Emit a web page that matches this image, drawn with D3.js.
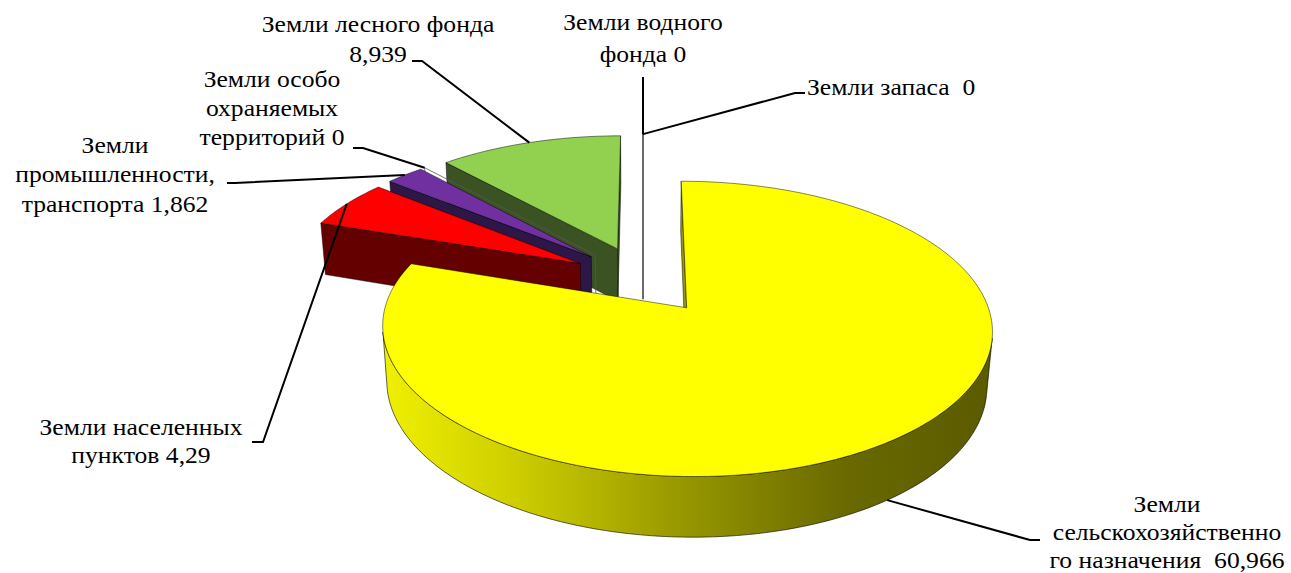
<!DOCTYPE html>
<html><head><meta charset="utf-8">
<script src="https://cdn.jsdelivr.net/npm/d3@7"></script>
</head><body style="margin:0">
<svg id="chart" width="1291" height="573"></svg>
<script>
// ---------- data ----------
const categories = [
  "Земли сельскохозяйственного назначения",
  "Земли населенных пунктов",
  "Земли промышленности, транспорта",
  "Земли особо охраняемых территорий",
  "Земли лесного фонда",
  "Земли водного фонда",
  "Земли запаса"
];
const values = [60.966, 4.29, 1.862, 0, 8.939, 0, 0];
// label text split into lines as in the picture (value appended to last line)
const labelLines = [
  ["Земли", "сельскохозяйственно", "го назначения\u00A0 {v}"],
  ["Земли населенных", "пунктов {v}"],
  ["Земли", "промышленности,", "транспорта {v}"],
  ["Земли особо", "охраняемых", "территорий {v}"],
  ["Земли лесного фонда", "{v}"],
  ["Земли водного", "фонда {v}"],
  ["Земли запаса\u00A0 {v}"]
];
const topColors  = ["#FFFF00", "#FF0000", "#7030A0", "#4F81BD", "#92D050", "#FFFFFF", "#FFFFFF"];
const faceColors = ["#9a9a00", "#640000", "#2c1746", "#283f5e", "#3b5323", "#d0d0d0", "#d0d0d0"];

// ---------- layout (labels) ----------
const labelLayout = [
  {x: 1167, y: 512, lh: 28,  anchor: "middle", leader: [[1040, 540], [1030, 540]], bottom: true},
  {x: 141,  y: 435, lh: 28,  anchor: "middle", leader: [[252, 442], [263, 442]]},
  {x: 115,  y: 153, lh: 29.5,anchor: "middle", leader: [[227, 183], [235, 183]]},
  {x: 272,  y: 87,  lh: 29,  anchor: "middle", leader: [[353, 148], [363, 148]]},
  {x: 378,  y: 32,  lh: 30,  anchor: "middle", leader: [[412, 61], [422, 61]]},
  {x: 643,  y: 30,  lh: 32,  anchor: "middle", leader: [[643, 77]]},
  {x: 807,  y: 95,  lh: 30,  anchor: "start",  leader: [[805, 93], [795, 93]]}
];
const FONT_SIZE = 23.5, FONT_STRETCH = 1.09, FONT = "Liberation Serif";

// ---------- 3D projection ----------
const R = 1, H = 0.21, EXPL = 0.248;
const sinP = 0.466, cosP = Math.sqrt(1 - sinP * sinP);
const DIST = 6.37, F = 1868, CX = 643, CY = 279.5;
const cam = [0, DIST * sinP, -DIST * cosP];
function proj(p) {
  const [x, y, z] = p;
  const v = y * cosP + z * sinP;
  const depth = -y * sinP + z * cosP;
  const s = F / (DIST + depth);
  return [CX + x * s, CY - v * s];
}
function dot(a, b) { return a[0]*b[0] + a[1]*b[1] + a[2]*b[2]; }
function sub(a, b) { return [a[0]-b[0], a[1]-b[1], a[2]-b[2]]; }

const svg = d3.select("#chart");
const defs = svg.append("defs");
const line = d3.line();

const arcs = d3.pie().sort(null).startAngle(0).endAngle(2 * Math.PI)(values);

const slices = arcs.map((a, i) => {
  const mid = (a.startAngle + a.endAngle) / 2;
  const ox = EXPL * Math.sin(mid), oz = EXPL * Math.cos(mid);
  return {i, a0: a.startAngle, a1: a.endAngle, mid, ox, oz, zero: values[i] === 0};
});

function rim(s, th, y) { return [s.ox + R * Math.sin(th), y, s.oz + R * Math.cos(th)]; }

// side gradient (light on the left, dark on the right)
const grad = defs.append("linearGradient").attr("id", "sideGrad0")
  .attr("gradientUnits", "userSpaceOnUse")
  .attr("x1", 383).attr("x2", 995).attr("y1", 0).attr("y2", 0);
[[0, "#f0f000"], [0.22, "#cdcd00"], [0.5, "#959500"], [0.75, "#6a6a00"], [1, "#5a5a00"]]
  .forEach(([o, c]) => grad.append("stop").attr("offset", o).attr("stop-color", c));

// painter's order: farthest back first
const order = slices.slice().sort((p, q) => {
  const dp = p.oz + Math.cos(p.mid) * 0.5, dq = q.oz + Math.cos(q.mid) * 0.5;
  return dq - dp;
});

const gPie = svg.append("g");
order.forEach(s => {
  const g = gPie.append("g");
  const apexT = [s.ox, 0, s.oz], apexB = [s.ox, -H, s.oz];
  if (s.zero) {
    const pts = [apexT, rim(s, s.a0, 0), rim(s, s.a0, -H), apexB].map(proj);
    g.append("path").attr("d", line(pts) + "Z")
      .attr("fill", "none").attr("stroke", "#555").attr("stroke-width", 0.8);
    return;
  }
  // cut faces
  const faces = [
    {th: s.a0, n: [-Math.cos(s.a0), 0, Math.sin(s.a0)]},
    {th: s.a1, n: [Math.cos(s.a1), 0, -Math.sin(s.a1)]}
  ];
  faces.forEach(f => {
    if (dot(sub(cam, apexT), f.n) > 0) {
      const pts = [apexT, rim(s, f.th, 0), rim(s, f.th, -H), apexB].map(proj);
      g.append("path").attr("d", line(pts) + "Z")
        .attr("fill", faceColors[s.i]).attr("stroke", "#000").attr("stroke-width", 0.6).attr("stroke-opacity", 0.8);
    }
  });
  // outer side (visible portion)
  const N = Math.max(4, Math.ceil((s.a1 - s.a0) / (Math.PI / 180)));
  const ths = d3.range(N + 1).map(k => s.a0 + (s.a1 - s.a0) * k / N);
  let run = [];
  const runs = [];
  for (let k = 0; k < N; k++) {
    const tm = (ths[k] + ths[k + 1]) / 2;
    const p = rim(s, tm, 0);
    const n = [Math.sin(tm), 0, Math.cos(tm)];
    if (dot(sub(cam, p), n) > 0) {
      if (!run.length) run.push(ths[k]);
      run.push(ths[k + 1]);
    } else if (run.length) { runs.push(run); run = []; }
  }
  if (run.length) runs.push(run);
  runs.forEach(r => {
    const top = r.map(t => proj(rim(s, t, 0)));
    const bot = r.slice().reverse().map(t => proj(rim(s, t, -H)));
    g.append("path").attr("d", line(top.concat(bot)) + "Z")
      .attr("fill", s.i === 0 ? "url(#sideGrad0)" : faceColors[s.i])
      .attr("stroke", "#000").attr("stroke-width", 0.7).attr("stroke-opacity", 0.85);
  });
  // top face
  const topPts = [proj(apexT)].concat(ths.map(t => proj(rim(s, t, 0))));
  g.append("path").attr("d", line(topPts) + "Z")
    .attr("fill", topColors[s.i]).attr("stroke", "#000").attr("stroke-width", 0.6).attr("stroke-opacity", 0.8);
});

// ---------- labels and leader lines ----------
const fmt = v => String(v).replace(".", ",");
slices.forEach(s => {
  const L = labelLayout[s.i];
  const anchor3 = rim(s, s.mid, L.bottom ? -H : 0);
  const end = proj(anchor3);
  svg.append("path").attr("d", line(L.leader.concat([end])))
    .attr("fill", "none").attr("stroke", "#000").attr("stroke-width", 2);
  const gT = svg.append("g").attr("transform", `translate(${L.x},0) scale(${FONT_STRETCH},1)`);
  labelLines[s.i].forEach((ln, k) => {
    gT.append("text")
      .attr("x", 0).attr("y", L.y + k * L.lh)
      .attr("text-anchor", L.anchor)
      .style("font-family", FONT)
      .style("font-size", FONT_SIZE + "px")
      .text(ln.replace("{v}", fmt(values[s.i])));
  });
});
</script>
</body></html>
